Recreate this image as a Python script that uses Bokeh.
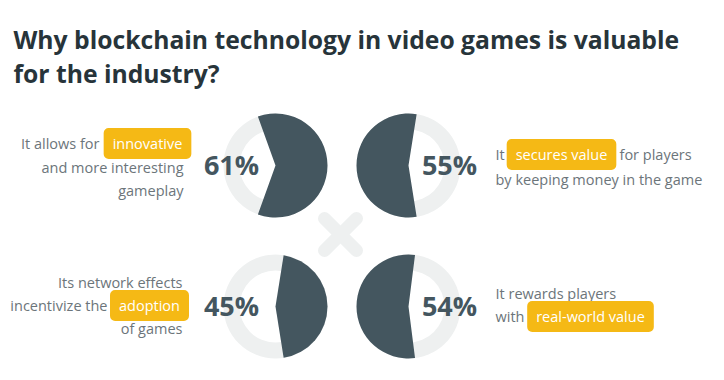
import math
from bokeh.plotting import figure
from bokeh.models import Range1d
from bokeh.core.properties import value
from bokeh.embed import file_html
from bokeh.resources import INLINE

# ---- data ----
percent_values = [61, 55, 45, 54]
percent_labels = ["61%", "55%", "45%", "54%"]
title_lines = ["Why blockchain technology in video games is valuable", "for the industry?"]

# ---- layout ----
centers_x = [275, 408, 275, 408]
centers_y = [165, 165, 306, 306]
facing = [0.0, math.pi, 0.0, math.pi]  # direction the dark sector faces
pct_x = [231, 449, 231, 449]
R_OUT, R_IN = 52, 36

DARK = "#44565f"
RING = "#eef0f0"
GRAY = "#6c757a"
YELLOW = "#f5b915"
FONT = value("Open Sans")

p = figure(width=708, height=364, output_backend="svg", toolbar_location=None,
           x_range=Range1d(0, 708), y_range=Range1d(364, 0), min_border=0)
p.axis.visible = False
p.grid.visible = False
p.outline_line_color = None
p.background_fill_color = "white"
p.border_fill_color = "white"

# cross in the middle
cx, cy, d = 340, 234, 16
p.segment(x0=[cx - d, cx - d], y0=[cy - d, cy + d], x1=[cx + d, cx + d], y1=[cy + d, cy - d],
          line_color=RING, line_width=13, line_cap="round")

# rings
p.annulus(x=centers_x, y=centers_y, inner_radius=R_IN, outer_radius=R_OUT,
          fill_color=RING, line_color=None)

# dark sectors
starts, ends = [], []
for v, f in zip(percent_values, facing):
    half = v / 100 * math.pi
    starts.append(f - half)
    ends.append(f + half)
p.wedge(x=centers_x, y=centers_y, radius=R_OUT, start_angle=starts, end_angle=ends,
        fill_color=DARK, line_color=None)

# percentages
p.text(x=pct_x, y=[c - 1 for c in centers_y], text=percent_labels, text_font=FONT,
       text_font_style="bold", text_font_size="27px", text_color=DARK,
       text_align="center", text_baseline="middle")

# title
p.text(x=[13, 13], y=[39, 73], text=title_lines, text_font=FONT, text_font_style="bold",
       text_font_size="24.7px", text_color="#27343a", text_align="left",
       text_baseline="alphabetic")

def label(x, y, t, align):
    p.text(x=[x], y=[y], text=[t], text_font=FONT, text_font_size="14.5px",
           text_color=GRAY, text_align=align, text_baseline="middle")

def badge(x, y, t):
    p.text(x=[x], y=[y], text=[t], text_font=FONT, text_font_size="14.5px",
           text_color="white", text_align="center", text_baseline="middle",
           background_fill_color=YELLOW, border_radius=5, padding=(9, 6))

# top-left
label(99, 143, "It allows for", "right")
badge(147, 143, "innovative")
label(183, 167, "and more interesting", "right")
label(183, 190, "gameplay", "right")
# top-right
label(495, 154, "It", "left")
badge(561, 154, "secures value")
label(619, 154, "for players", "left")
label(495, 179, "by keeping money in the game", "left")
# bottom-left
label(182, 282, "Its network effects", "right")
label(107, 305, "incentivize the", "right")
badge(149, 305, "adoption")
label(182, 328, "of games", "right")
# bottom-right
label(495, 293, "It rewards players", "left")
label(495, 316, "with", "left")
badge(590, 316, "real-world value")

open("out.html", "w").write(file_html(p, INLINE))
